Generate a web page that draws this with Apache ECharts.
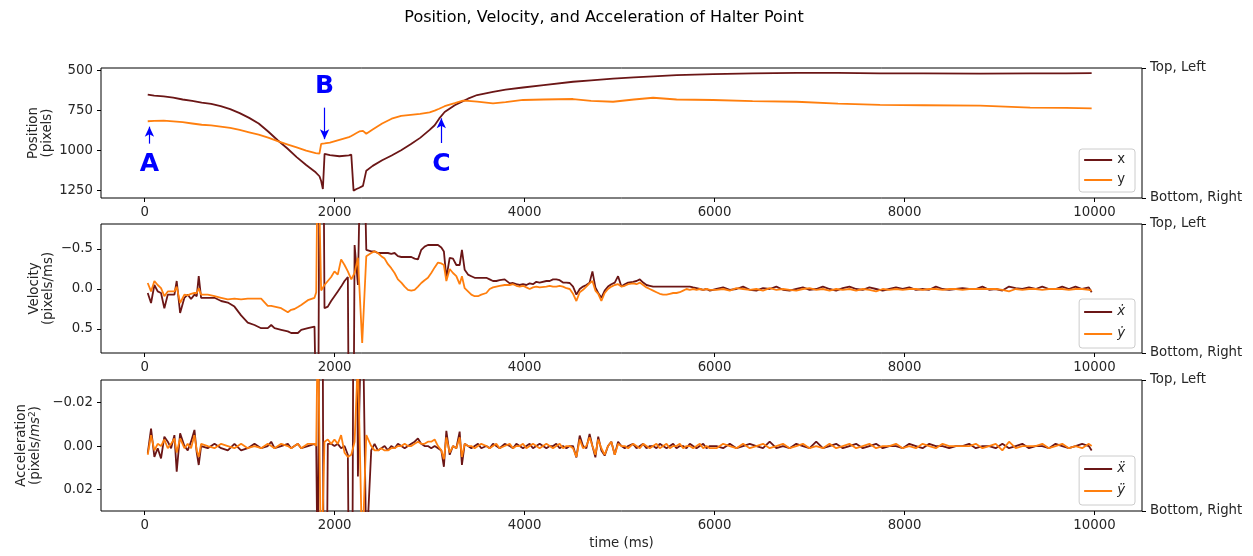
<!DOCTYPE html>
<html><head><meta charset="utf-8">
<script src="https://cdn.jsdelivr.net/npm/echarts@6/dist/echarts.min.js"></script>
<style>html,body{margin:0;padding:0;background:#fff}#c{width:1253px;height:556px}</style>
</head><body><div id="c"></div>
<script>
// ---------- Position panel ----------
const posT = [32, 100, 200, 300, 400, 500, 600, 700, 800, 900,
  1000, 1100, 1200, 1300, 1400, 1500, 1600, 1700, 1800, 1840,
  1858, 1876, 1894, 1950, 2050, 2150, 2175, 2199, 2230, 2260,
  2298, 2333, 2400, 2500, 2600, 2700, 2800, 2900, 3000, 3053,
  3100, 3158, 3264, 3351, 3404, 3500, 3667, 3800, 3983, 4200,
  4510, 4700, 4931, 5150, 5353, 5600, 5985, 6400, 6864, 7300,
  7742, 8200, 8795, 9322, 9700, 9970];
const posX = [650, 656, 660, 668, 680, 688, 700, 708, 722, 740,
  765, 795, 830, 880, 935, 985, 1040, 1090, 1135, 1160,
  1190, 1240, 1020, 1028, 1035, 1030, 1025, 1250, 1240, 1232,
  1220, 1125, 1095, 1060, 1030, 997, 960, 920, 870, 841,
  800, 758, 716, 690, 675, 652, 632, 618, 605, 590,
  569, 560, 550, 542, 535, 528, 521, 517, 514, 514,
  516, 517, 518, 517, 516, 515];
const posY = [816, 814, 812, 817, 822, 830, 838, 842, 850, 858,
  870, 885, 900, 918, 940, 960, 980, 1000, 1015, 1019,
  958, 956, 955, 950, 932, 915, 908, 900, 890, 880,
  876, 894, 868, 830, 800, 782, 776, 770, 760, 750,
  738, 722, 703, 687, 688, 693, 704, 697, 683, 680,
  677, 688, 694, 680, 669, 680, 683, 690, 694, 706,
  714, 716, 718, 731, 732, 735];

// ---------- Velocity / acceleration panels (shared time grid) ----------
const timeMs = [32, 67, 102, 137, 172, 207, 243, 278, 313, 337,
  373, 418, 453, 488, 524, 548, 569, 594, 664, 735,
  805, 875, 945, 1015, 1085, 1156, 1226, 1296, 1332, 1367,
  1437, 1507, 1542, 1577, 1613, 1648, 1718, 1788, 1806, 1823,
  1858, 1893, 1928, 1963, 1998, 2033, 2068, 2104, 2139, 2175,
  2210, 2245, 2290, 2333, 2385, 2420, 2455, 2491, 2526, 2561,
  2596, 2631, 2666, 2702, 2737, 2772, 2807, 2842, 2877, 2912,
  2947, 2982, 3017, 3053, 3088, 3123, 3150, 3176, 3211, 3246,
  3281, 3316, 3340, 3369, 3404, 3439, 3474, 3509, 3544, 3597,
  3632, 3667, 3702, 3737, 3790, 3843, 3878, 3913, 3948, 3983,
  4018, 4053, 4088, 4123, 4158, 4229, 4264, 4299, 4334, 4369,
  4404, 4440, 4475, 4510, 4545, 4580, 4615, 4650, 4684, 4714,
  4745, 4775, 4808, 4843, 4878, 4913, 4949, 4984, 5019, 5054,
  5090, 5142, 5178, 5213, 5248, 5283, 5318, 5353, 5388, 5423,
  5458, 5494, 5529, 5564, 5599, 5634, 5669, 5704, 5739, 5774,
  5810, 5845, 5880, 5915, 5950,
  6020, 6090, 6160, 6230, 6300, 6370, 6440, 6510, 6580, 6650,
  6720, 6790, 6860, 6930, 7000, 7070, 7140, 7210, 7280, 7350,
  7420, 7490, 7560, 7630, 7700, 7770, 7840, 7910, 7980, 8050,
  8120, 8190, 8260, 8330, 8400, 8470, 8540, 8610, 8680, 8750,
  8820, 8890, 8960, 9030, 9100, 9170, 9240, 9310, 9380, 9450,
  9520, 9590, 9660, 9730, 9800, 9870, 9940, 9970];
const velX = [0.05, 0.175, -0.05, 0.03, 0.05, 0.24, 0.07, 0.07, 0.07, -0.10,
  0.30, 0.11, 0.07, 0.125, 0.07, 0.09, -0.16, 0.11, 0.11, 0.11,
  0.15, 0.17, 0.22, 0.33, 0.42, 0.45, 0.49, 0.49, 0.45, 0.49,
  0.51, 0.53, 0.55, 0.55, 0.55, 0.51, 0.49, 0.47, 0.48, 2.8,
  -6.6, 0.24, 0.22, 0.15, 0.09, 0.03, -0.03, -0.10, -0.15, 6.9,
  -0.55, -0.05, -2.9, -0.49, -0.47, -0.47, -0.45, -0.45, -0.45, -0.45,
  -0.44, -0.45, -0.41, -0.40, -0.40, -0.40, -0.40, -0.38, -0.37, -0.49,
  -0.53, -0.55, -0.55, -0.55, -0.55, -0.52, -0.47, -0.14, -0.39, -0.38,
  -0.30, -0.30, -0.49, -0.24, -0.18, -0.16, -0.14, -0.14, -0.14, -0.14,
  -0.12, -0.10, -0.10, -0.11, -0.12, -0.07, -0.075, -0.06, -0.05, -0.06,
  -0.05, -0.07, -0.06, -0.09, -0.08, -0.10, -0.10, -0.12, -0.12, -0.11,
  -0.08, -0.08, -0.075, -0.03, 0.07, 0.0, -0.03, -0.05, -0.08, -0.22,
  -0.02, 0.05, 0.11, 0.02, -0.03, -0.06, -0.08, -0.16, -0.03, -0.06,
  -0.08, -0.09, -0.10, -0.12, -0.08, -0.05, -0.04, -0.03, -0.03, -0.03,
  -0.03, -0.03, -0.03, -0.03, -0.03, -0.03, -0.03, -0.03, -0.03, -0.02,
  -0.01, 0.0, 0.01, 0.0, 0.02,
  0.0, -0.02, 0.01, 0.0, -0.03, 0.01, 0.02, -0.01, 0.0, -0.03,
  0.01, 0.02, 0.0, -0.02, 0.01, 0.0, -0.03, 0.0, 0.02, -0.01,
  -0.03, 0.0, 0.01, -0.02, 0.0, 0.02, 0.0, -0.02, 0.0, -0.02,
  0.01, 0.0, 0.01, -0.03, 0.0, 0.01, 0.0, -0.01, 0.0, 0.0,
  -0.03, 0.01, 0.0, 0.02, -0.03, -0.01, 0.0, -0.02, 0.0, -0.03,
  0.0, 0.0, -0.03, 0.0, -0.03, 0.0, -0.02, 0.04];
const velY = [-0.075, 0.03, -0.10, -0.05, -0.01, 0.09, 0.03, 0.03, 0.03, -0.03,
  0.175, 0.07, 0.08, 0.06, 0.05, 0.05, -0.01, 0.07, 0.07, 0.09,
  0.11, 0.13, 0.12, 0.13, 0.12, 0.12, 0.12, 0.21, 0.21, 0.22,
  0.24, 0.29, 0.26, 0.25, 0.225, 0.20, 0.14, 0.11, 0.04, -1.9,
  0.02, -0.05, -0.10, -0.15, -0.22, -0.18, -0.37, -0.30, -0.22, -0.12,
  -0.20, -0.39, 0.675, -0.41, -0.45, -0.47, -0.45, -0.41, -0.38, -0.31,
  -0.26, -0.20, -0.12, -0.08, -0.03, 0.01, 0.02, 0.01, -0.03, -0.075,
  -0.11, -0.14, -0.20, -0.27, -0.33, -0.32, -0.30, -0.10, -0.25, -0.20,
  -0.16, -0.06, -0.16, -0.01, 0.03, 0.07, 0.09, 0.09, 0.07, 0.05,
  0.0, -0.02, -0.03, -0.04, -0.05, -0.05, -0.06, -0.04, -0.03, -0.04,
  -0.02, 0.0, -0.02, -0.03, -0.02, -0.03, -0.04, -0.03, -0.03, -0.04,
  -0.03, -0.01, 0.0, 0.06, 0.15, 0.04, 0.01, -0.03, -0.07, -0.10,
  0.02, 0.06, 0.15, 0.05, 0.0, -0.03, -0.05, -0.06, -0.03, -0.04,
  -0.06, -0.07, -0.06, -0.08, -0.05, -0.02, 0.0, 0.02, 0.04, 0.06,
  0.07, 0.07, 0.06, 0.05, 0.05, 0.04, 0.02, 0.0, 0.01, 0.0,
  0.01, 0.0, 0.01, 0.0, 0.01,
  0.01, 0.0, 0.02, -0.01, 0.0, 0.01, 0.0, 0.02, -0.01, 0.01,
  0.0, 0.01, 0.02, 0.0, -0.01, 0.01, 0.0, 0.02, 0.0, 0.01,
  0.0, 0.02, 0.0, 0.01, 0.03, 0.0, 0.01, 0.0, 0.01, 0.0,
  0.0, 0.01, 0.0, 0.0, 0.01, 0.0, 0.0, 0.01, 0.0, 0.0,
  0.0, 0.0, 0.0, 0.01, 0.03, 0.0, 0.01, 0.0, 0.0, 0.01,
  0.0, 0.0, 0.0, 0.01, 0.0, 0.0, 0.01, 0.02];
const accX = [0.0034, -0.008, 0.005, 0.001, 0.0057, -0.0043, -0.002, 0.001, -0.005, 0.0118,
  -0.0058, 0.0, 0.002, -0.002, -0.0074, 0.003, 0.0087, 0.0, 0.001, -0.001,
  0.001, 0.002, -0.001, 0.002, 0.001, -0.001, 0.001, 0.0, -0.002, 0.001,
  0.0, -0.001, 0.001, 0.0, -0.001, 0.001, 0.0, -0.001, 0.0, 0.07,
  -0.28, 0.2, -0.001, -0.001, 0.0, -0.001, 0.001, 0.0, 0.004, 0.2,
  -0.22, 0.014, -0.08, 0.05, 0.002, -0.001, 0.002, 0.001, 0.0, 0.002,
  0.0, 0.001, -0.001, 0.0, 0.001, 0.0, -0.001, -0.002, -0.0035, -0.001,
  0.0, 0.0, 0.001, 0.0, 0.001, 0.002, 0.0095, -0.007, 0.004, 0.0,
  0.001, -0.0066, 0.0087, -0.001, 0.0, 0.001, 0.0, -0.001, 0.001, 0.0,
  0.001, -0.001, 0.0, 0.001, -0.001, 0.0, 0.001, -0.001, 0.0, 0.001,
  0.0, -0.001, 0.001, 0.0, -0.001, 0.001, 0.0, 0.0, -0.001, 0.001,
  0.0, 0.001, 0.0, 0.0, 0.0052, -0.0048, 0.0, 0.001, -0.0055, 0.0,
  0.0052, -0.0043, 0.002, 0.0044, 0.0, -0.002, 0.004, -0.002, 0.0, 0.001,
  0.0, -0.001, 0.001, 0.0, -0.001, 0.001, 0.0, 0.0, 0.001, -0.001,
  0.0, 0.001, 0.0, -0.001, 0.001, 0.0, 0.0, 0.001, -0.001, 0.0,
  0.001, 0.0, -0.001, 0.001, 0.0,
  0.0, 0.001, -0.001, 0.001, 0.0, -0.001, 0.0, 0.001, -0.002, 0.001,
  0.0, 0.001, -0.001, 0.0, 0.001, -0.002, 0.001, 0.0, -0.001, 0.001,
  0.0, -0.001, 0.001, 0.0, -0.001, 0.001, 0.0, 0.0, 0.001, -0.001,
  0.0, 0.001, -0.001, 0.0, 0.0, 0.001, 0.0, 0.0, -0.001, 0.001,
  0.0, 0.0, 0.001, -0.001, 0.001, 0.0, -0.001, 0.001, 0.0, 0.0,
  0.001, -0.001, 0.0, 0.001, 0.0, -0.001, 0.0, 0.002];
const accY = [0.004, -0.005, 0.002, -0.001, 0.0, -0.003, 0.001, -0.001, -0.0035, 0.003,
  -0.0035, 0.001, -0.001, 0.001, -0.005, 0.002, 0.005, -0.001, 0.0, 0.001,
  -0.001, 0.0, 0.001, -0.001, 0.001, 0.0, 0.001, -0.001, 0.0, 0.001,
  -0.001, 0.0, 0.001, 0.0, -0.001, 0.001, -0.001, -0.001, 0.0, -0.06,
  0.06, -0.002, -0.003, -0.001, -0.003, -0.001, -0.005, 0.003, 0.005, 0.004,
  -0.002, -0.04, 0.05, -0.005, 0.0, 0.002, 0.002, 0.001, 0.002, 0.002,
  0.001, 0.001, 0.0, 0.0, -0.001, 0.0, 0.0, -0.001, -0.002, -0.001,
  -0.001, -0.002, -0.002, -0.003, 0.0, 0.002, 0.006, -0.004, 0.003, 0.0,
  0.001, -0.004, 0.005, -0.001, 0.0, 0.0, 0.001, 0.0, -0.001, 0.0,
  0.001, 0.0, -0.001, 0.001, 0.0, -0.001, 0.001, 0.0, 0.0, -0.001,
  0.001, 0.0, -0.001, 0.0, 0.001, -0.001, 0.0, 0.001, 0.0, -0.001,
  0.001, 0.0, 0.0, 0.001, 0.005, -0.003, 0.001, 0.0, -0.004, 0.0,
  0.004, -0.003, 0.001, 0.004, 0.0, -0.002, 0.004, -0.001, 0.0, 0.0,
  0.001, -0.001, 0.0, 0.001, -0.001, 0.0, 0.001, 0.0, -0.001, 0.001,
  0.0, -0.001, 0.001, 0.0, 0.0, -0.001, 0.001, 0.0, 0.0, 0.001,
  0.0, -0.001, 0.001, 0.0, 0.001,
  0.001, -0.001, 0.0, 0.001, -0.001, 0.001, 0.0, -0.001, 0.001, 0.0,
  -0.001, 0.001, 0.0, -0.001, 0.001, 0.0, 0.001, -0.001, 0.001, 0.0,
  -0.001, 0.001, 0.0, -0.001, 0.001, 0.0, 0.0, -0.001, 0.001, 0.0,
  0.001, -0.001, 0.0, 0.001, -0.001, 0.0, 0.0, 0.0, 0.0, -0.001,
  0.001, 0.0, -0.001, 0.002, -0.002, 0.001, 0.0, 0.0, 0.0, -0.001,
  0.001, 0.0, -0.001, 0.001, 0.0, 0.001, -0.001, 0.0];

// ---------- Ticks & annotations ----------
const timeTicks = [0, 2000, 4000, 6000, 8000, 10000];
const posTicks = [500, 750, 1000, 1250];
const velTicks = [-0.5, 0, 0.5];
const accTicks = [-0.02, 0, 0.02];
const annoLabel = ['A', 'B', 'C'];
const annoT = [50, 1894, 3123];
const annoTail = [956, 731, 952];
const annoTip = [850, 928, 798];
const annoText = [1085, 596, 1087];

[posX, posY].forEach(a => { if (a.length !== posT.length) throw new Error('pos len ' + a.length + ' vs ' + posT.length); });
[velX, velY, accX, accY].forEach((a, k) => { if (a.length !== timeMs.length) throw new Error('len ' + k + ': ' + a.length + ' vs ' + timeMs.length); });

const FONT = 'DejaVu Sans';
const FS = 13.3;
const DARK = '#6b1616';
const ORANGE = '#ff7f0e';
const TXT = '#262626';
const grids = [{top: 68, height: 130}, {top: 224, height: 129}, {top: 380, height: 131}];
const minus = s => s.replace('-', '\u2212');
const tickStyle = {show: true, length: 4, lineStyle: {color: '#000', width: 1}};

const xAxes = grids.map((g, i) => ({
  type: 'value', gridIndex: i, min: -460, max: 10500,
  axisLine: {show: false, onZero: false},
  splitLine: {show: false},
  axisTick: Object.assign({customValues: timeTicks}, tickStyle),
  axisLabel: {customValues: timeTicks, color: TXT, fontSize: FS, fontFamily: FONT, margin: 8, formatter: v => String(v)},
  name: i === 2 ? 'time (ms)' : '', nameLocation: 'middle', nameGap: 26,
  nameTextStyle: {color: TXT, fontSize: FS, fontFamily: FONT}
}));

function leftAxis(i, min, max, ticks, fmt, nameRich, gap) {
  return {
    type: 'value', gridIndex: i, position: 'left', inverse: true, min: min, max: max,
    axisLine: {show: false, onZero: false}, splitLine: {show: false},
    axisTick: Object.assign({customValues: ticks}, tickStyle),
    axisLabel: {customValues: ticks, color: TXT, fontSize: FS, fontFamily: FONT, margin: 8, formatter: fmt},
    name: nameRich, nameLocation: 'middle', nameRotate: 90, nameGap: gap, nameMoveOverlap: false,
    nameTextStyle: {color: TXT, fontSize: FS, fontFamily: FONT, lineHeight: 14.5, align: 'center',
      rich: {a: {fontSize: FS, fontFamily: FONT, color: TXT, lineHeight: 14.5},
             i: {fontSize: FS, fontFamily: FONT, color: TXT, fontStyle: 'italic', lineHeight: 14.5},
             s: {fontSize: 9, fontFamily: FONT, color: TXT, verticalAlign: 'top', lineHeight: 14.5}}}
  };
}
function rightAxis(i) {
  return {
    type: 'value', gridIndex: i, position: 'right', min: 0, max: 1,
    axisLine: {show: false, onZero: false}, splitLine: {show: false},
    axisTick: Object.assign({customValues: [0, 1]}, tickStyle),
    axisLabel: {customValues: [0, 1], color: TXT, fontSize: FS, fontFamily: FONT, margin: 8,
      formatter: v => v === 1 ? 'Top, Left' : 'Bottom, Right'}
  };
}

const yAxes = [
  leftAxis(0, 483, 1296, posTicks, v => String(v), '{a|Position}\n{a|(pixels)}', 46),
  rightAxis(0),
  leftAxis(1, -0.8125, 0.8, velTicks, v => minus(v.toFixed(1)), '{a|Velocity}\n{a|(pixels/ms)}', 45),
  rightAxis(1),
  leftAxis(2, -0.0303, 0.0298, accTicks, v => minus(v.toFixed(2)), '{a|Acceleration}\n{a|(pixels/}{i|ms}{s|2}{a|)}', 58),
  rightAxis(2)
];

function lineSeries(name, gi, t, vals, color, extra) {
  return Object.assign({
    name: name, type: 'line', xAxisIndex: gi, yAxisIndex: gi * 2,
    data: t.map((x, k) => [x, vals[k]]),
    showSymbol: false, symbol: 'none', clip: true,
    lineStyle: {color: color, width: 1.8}, itemStyle: {color: color},
    animation: false, silent: true
  }, extra || {});
}

const annoSeriesExtra = {
  markLine: {
    silent: true, animation: false, symbol: ['none', 'arrow'], symbolSize: [7, 10],
    lineStyle: {color: '#0000ff', width: 1.2, type: 'solid'}, label: {show: false},
    data: annoLabel.map((l, k) => [{coord: [annoT[k], annoTail[k]]}, {coord: [annoT[k], annoTip[k]]}])
  },
  markPoint: {
    silent: true, animation: false, symbol: 'circle', symbolSize: 0,
    label: {show: true, position: 'inside', formatter: '{b}', color: '#0000ff', fontSize: 25, fontWeight: 'bold', fontFamily: FONT},
    data: annoLabel.map((l, k) => ({name: l, coord: [annoT[k], annoText[k]]}))
  }
};

const legendBase = (data, top, italic) => ({
  data: data, orient: 'vertical', right: 118, top: top,
  icon: 'rect', itemWidth: 28, itemHeight: 2, itemGap: 4,
  padding: italic ? [4, 10, 5, 5] : [3, 10, 4, 5],
  backgroundColor: 'rgba(255,255,255,0.8)', borderColor: '#cccccc', borderWidth: 1, borderRadius: 3,
  textStyle: {color: TXT, fontSize: FS, fontFamily: FONT, fontStyle: italic ? 'italic' : 'normal', lineHeight: italic ? 18 : 16},
  selectedMode: false
});

const option = {
  backgroundColor: '#ffffff',
  animation: false,
  graphic: [{type: 'text', x: 604, y: 18, silent: true,
    style: {text: 'Position, Velocity, and Acceleration of Halter Point', fill: '#000',
      font: '16px "DejaVu Sans"', align: 'center', verticalAlign: 'middle'}}],
  grid: grids.map(g => ({left: 101, width: 1041, top: g.top, height: g.height, show: true,
    borderColor: '#000', borderWidth: 1, backgroundColor: 'transparent', containLabel: false})),
  xAxis: xAxes,
  yAxis: yAxes,
  legend: [legendBase(['x', 'y'], 149, false),
           legendBase(['\u1E8B', '\u1E8F'], 299, true),
           legendBase(['\u1E8D', '\u00FF'], 456, true)],
  series: [
    lineSeries('x', 0, posT, posX, DARK, annoSeriesExtra),
    lineSeries('y', 0, posT, posY, ORANGE),
    lineSeries('\u1E8B', 1, timeMs, velX, DARK),
    lineSeries('\u1E8F', 1, timeMs, velY, ORANGE),
    lineSeries('\u1E8D', 2, timeMs, accX, DARK),
    lineSeries('\u00FF', 2, timeMs, accY, ORANGE)
  ]
};
const chart = echarts.init(document.getElementById('c'), null, {renderer: 'canvas'});
chart.setOption(option);
</script></body></html>
